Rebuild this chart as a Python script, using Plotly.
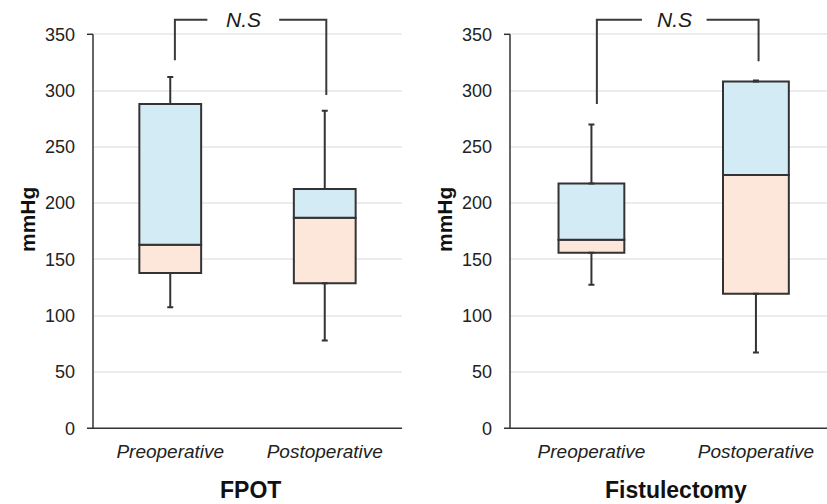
import plotly.graph_objects as go

# ---- data -----------------------------------------------------------------
groups = ["Preoperative", "Postoperative"]

fpot_low = [107.5, 78]
fpot_q1 = [138, 129]
fpot_med = [163, 187]
fpot_q3 = [288, 212.5]
fpot_high = [312, 282]

fist_low = [127.5, 67.5]
fist_q1 = [156, 119.5]
fist_med = [167.5, 225]
fist_q3 = [217.5, 308]
fist_high = [270, 309]

y_ticks = [0, 50, 100, 150, 200, 250, 300, 350]
panel_titles = ["FPOT", "Fistulectomy"]
y_title = "mmHg"
sig_label = "N.S"

bracket_top = 363
fpot_bracket_feet = [327, 296]
fist_bracket_feet = [288, 326]

# ---- styling / geometry ---------------------------------------------------
W, H = 827, 504
FONT = "Liberation Sans, Arial, sans-serif"
INK = "#333333"
BLUE = "#d3ebf5"
PEACH = "#fde6da"
GRID = "#ececec"

K = 1 / 0.98          # vertical layout factor
Y_MAX = 372
Y0_PX, PX_PER_UNIT = 428.3 * K, 394.0 / 350 * K
ydom = [(H - Y0_PX) / H, (H - Y0_PX + Y_MAX * PX_PER_UNIT) / H]

panels = [
    dict(dom=[93 / W, 402 / W], rng=[-0.5, 1.5], axis_px=93, end_px=402,
         low=fpot_low, q1=fpot_q1, med=fpot_med, q3=fpot_q3, high=fpot_high,
         feet=fpot_bracket_feet, arms=[0.03, 1.01], gap=[0.24, 0.705], label_x=0.472,
         title=panel_titles[0]),
    dict(dom=[510 / W, 1.0], rng=[-0.495, 1.432], axis_px=510, end_px=W,
         low=fist_low, q1=fist_q1, med=fist_med, q3=fist_q3, high=fist_high,
         feet=fist_bracket_feet, arms=[0.033, 1.016], gap=[0.307, 0.70], label_x=0.507,
         title=panel_titles[1]),
]


def paper_y(v):
    return ydom[0] + v / Y_MAX * (ydom[1] - ydom[0])


fig = go.Figure()
shapes, annotations = [], []
xs = list(range(len(groups)))

for i, p in enumerate(panels, start=1):
    xa = "x" if i == 1 else f"x{i}"
    ya = "y" if i == 1 else f"y{i}"

    # lower half of the box (Q1 -> median)
    fig.add_trace(go.Bar(
        x=xs, base=p["q1"], y=[m - q for m, q in zip(p["med"], p["q1"])],
        width=0.4, marker=dict(color=PEACH, line=dict(color=INK, width=2)),
        xaxis=xa, yaxis=ya, showlegend=False, hoverinfo="skip"))
    # upper half of the box (median -> Q3)
    fig.add_trace(go.Bar(
        x=xs, base=p["med"], y=[q - m for q, m in zip(p["q3"], p["med"])],
        width=0.4, marker=dict(color=BLUE, line=dict(color=INK, width=2)),
        xaxis=xa, yaxis=ya, showlegend=False, hoverinfo="skip"))
    # whiskers
    fig.add_trace(go.Scatter(
        x=xs, y=p["q3"], mode="markers", marker=dict(size=1, color="rgba(0,0,0,0)"),
        error_y=dict(type="data", symmetric=False,
                     array=[h - q for h, q in zip(p["high"], p["q3"])],
                     arrayminus=[0, 0], color=INK, thickness=2, width=3),
        xaxis=xa, yaxis=ya, showlegend=False, hoverinfo="skip"))
    fig.add_trace(go.Scatter(
        x=xs, y=p["q1"], mode="markers", marker=dict(size=1, color="rgba(0,0,0,0)"),
        error_y=dict(type="data", symmetric=False, array=[0, 0],
                     arrayminus=[q - l for q, l in zip(p["q1"], p["low"])],
                     color=INK, thickness=2, width=3),
        xaxis=xa, yaxis=ya, showlegend=False, hoverinfo="skip"))

    # significance bracket
    fig.add_trace(go.Scatter(
        x=[p["arms"][0], p["arms"][0], p["gap"][0], None,
           p["gap"][1], p["arms"][1], p["arms"][1]],
        y=[p["feet"][0], bracket_top, bracket_top, None,
           bracket_top, bracket_top, p["feet"][1]],
        mode="lines", line=dict(color="#3a3a3a", width=2),
        xaxis=xa, yaxis=ya, showlegend=False, hoverinfo="skip"))
    annotations.append(dict(
        x=p["label_x"], y=bracket_top, xref=xa, yref=ya, text=f"<i>{sig_label}</i>",
        showarrow=False, font=dict(family=FONT, size=21, color="#1a1a1a"),
        xanchor="center", yanchor="middle"))

    # axis lines
    ax_x = p["axis_px"] / W
    shapes.append(dict(type="line", xref="paper", yref="paper",
                       x0=ax_x, x1=ax_x, y0=paper_y(0), y1=paper_y(350),
                       line=dict(color=INK, width=1.5)))
    shapes.append(dict(type="line", xref="paper", yref="paper",
                       x0=ax_x - 6 / W, x1=ax_x, y0=paper_y(350), y1=paper_y(350),
                       line=dict(color=INK, width=1.5)))
    shapes.append(dict(type="line", xref="paper", yref="paper",
                       x0=ax_x - 6 / W, x1=p["end_px"] / W, y0=paper_y(0), y1=paper_y(0),
                       line=dict(color=INK, width=1.5)))

    # axis titles
    annotations.append(dict(
        x=(p["dom"][0] + p["dom"][1]) / 2 + (3 if i == 1 else 7) / W,
        y=(H - 490 * K) / H,
        xref="paper", yref="paper", text=f"<b>{p['title']}</b>", showarrow=False,
        font=dict(family=FONT, size=23, color="#111111"),
        xanchor="center", yanchor="middle"))
    annotations.append(dict(
        x=(p["axis_px"] - 66) / W, y=(H - 220 * K) / H, xref="paper", yref="paper",
        text=f"<b>{y_title}</b>", textangle=-90, showarrow=False,
        font=dict(family=FONT, size=21, color="#111111"),
        xanchor="center", yanchor="middle"))

    xaxis = dict(domain=p["dom"], range=p["rng"], anchor=ya, tickvals=xs,
                 ticktext=[f"<i>{g}</i>" for g in groups], showgrid=False,
                 zeroline=False, showline=False, ticks="", ticklabelstandoff=10,
                 tickfont=dict(family=FONT, size=19, color="#222222"), fixedrange=True)
    yaxis = dict(domain=ydom, range=[0, Y_MAX], anchor=xa, tickvals=y_ticks,
                 showgrid=True, gridcolor=GRID, gridwidth=1.5, zeroline=False,
                 showline=False, ticks="", ticklabelstandoff=17,
                 tickfont=dict(family=FONT, size=18, color="#222222"), fixedrange=True)
    fig.layout[f"xaxis{'' if i == 1 else i}"] = xaxis
    fig.layout[f"yaxis{'' if i == 1 else i}"] = yaxis

fig.update_layout(
    width=W, height=H, margin=dict(l=0, r=0, t=0, b=0),
    paper_bgcolor="white", plot_bgcolor="white", barmode="overlay",
    shapes=shapes, annotations=annotations, showlegend=False,
    font=dict(family=FONT),
)

fig.write_html("out.html")
